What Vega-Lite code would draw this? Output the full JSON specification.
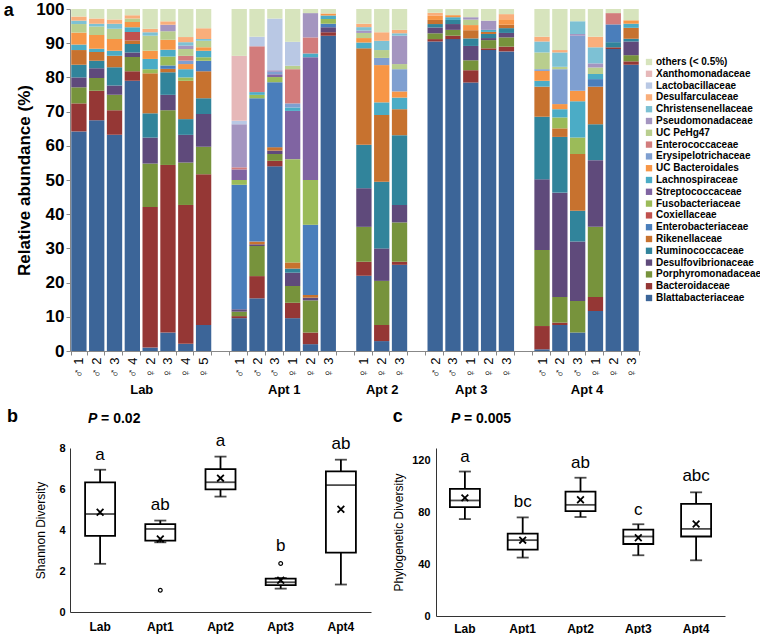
{
"$schema":"https://vega.github.io/schema/vega-lite/v6.json",
"padding":{"left":3,"top":0,"right":0,"bottom":0},
"spacing":12,
"config":{"font":"Liberation Sans","view":{"stroke":null},"axis":{"labelColor":"#000","titleColor":"#000"}},
"datasets":{
"fams":[{"fam":"Blattabacteriaceae","rank":1},{"fam":"Bacteroidaceae","rank":2},{"fam":"Porphyromonadaceae","rank":3},{"fam":"Desulfovibrionaceae","rank":4},{"fam":"Ruminococcaceae","rank":5},{"fam":"Rikenellaceae","rank":6},{"fam":"Enterobacteriaceae","rank":7},{"fam":"Coxiellaceae","rank":8},{"fam":"Fusobacteriaceae","rank":9},{"fam":"Streptococcaceae","rank":10},{"fam":"Lachnospiraceae","rank":11},{"fam":"UC Bacteroidales","rank":12},{"fam":"Erysipelotrichaceae","rank":13},{"fam":"Enterococcaceae","rank":14},{"fam":"UC PeHg47","rank":15},{"fam":"Pseudomonadaceae","rank":16},{"fam":"Christensenellaceae","rank":17},{"fam":"Desulfarculaceae","rank":18},{"fam":"Lactobacillaceae","rank":19},{"fam":"Xanthomonadaceae","rank":20},{"fam":"others","rank":21}],
"bars":[
{"s":"Lab|♂ 1","Blattabacteriaceae":64.2,"Bacteroidaceae":8.2,"Porphyromonadaceae":4.7,"Desulfovibrionaceae":2.9,"Ruminococcaceae":3.7,"Rikenellaceae":4.3,"Lachnospiraceae":1.6,"UC Bacteroidales":3.5,"UC PeHg47":2.5,"Christensenellaceae":1.0,"Desulfarculaceae":1.2,"others":2.2},
{"s":"Lab|♂ 2","Blattabacteriaceae":67.5,"Bacteroidaceae":8.6,"Porphyromonadaceae":3.7,"Desulfovibrionaceae":2.9,"Ruminococcaceae":2.2,"Rikenellaceae":2.5,"Lachnospiraceae":1.0,"UC Bacteroidales":4.0,"UC PeHg47":2.5,"Christensenellaceae":0.8,"Desulfarculaceae":1.5,"others":2.8},
{"s":"Lab|♂ 3","Blattabacteriaceae":63.2,"Bacteroidaceae":7.2,"Porphyromonadaceae":4.5,"Desulfovibrionaceae":2.7,"Ruminococcaceae":5.4,"Rikenellaceae":3.3,"Lachnospiraceae":1.5,"UC Bacteroidales":3.4,"UC PeHg47":3.0,"Christensenellaceae":1.5,"Desulfarculaceae":1.2,"others":3.1},
{"s":"Lab|♂ 4","Blattabacteriaceae":79.0,"Bacteroidaceae":2.8,"Porphyromonadaceae":4.2,"Desulfovibrionaceae":1.3,"Ruminococcaceae":2.5,"Rikenellaceae":1.0,"Coxiellaceae":2.5,"Lachnospiraceae":1.4,"UC Bacteroidales":1.5,"UC PeHg47":1.0,"Desulfarculaceae":1.0,"others":1.8},
{"s":"Lab|♀ 2","Blattabacteriaceae":1.0,"Bacteroidaceae":41.1,"Porphyromonadaceae":12.7,"Desulfovibrionaceae":7.6,"Ruminococcaceae":7.1,"Rikenellaceae":11.7,"Fusobacteriaceae":1.2,"Lachnospiraceae":3.0,"UC Bacteroidales":2.4,"UC PeHg47":4.4,"Christensenellaceae":1.0,"Desulfarculaceae":1.0,"others":5.8},
{"s":"Lab|♀ 3","Blattabacteriaceae":5.4,"Bacteroidaceae":49.0,"Porphyromonadaceae":16.0,"Desulfovibrionaceae":4.5,"Ruminococcaceae":6.6,"Rikenellaceae":1.0,"Enterobacteriaceae":1.0,"Fusobacteriaceae":2.6,"Lachnospiraceae":2.0,"UC Bacteroidales":2.9,"UC PeHg47":2.5,"Pseudomonadaceae":1.9,"Desulfarculaceae":1.0,"others":3.6},
{"s":"Lab|♀ 4","Blattabacteriaceae":2.1,"Bacteroidaceae":40.6,"Porphyromonadaceae":12.4,"Desulfovibrionaceae":8.1,"Ruminococcaceae":4.6,"Rikenellaceae":11.2,"Fusobacteriaceae":1.0,"Lachnospiraceae":2.4,"UC Bacteroidales":1.5,"Erysipelotrichaceae":1.0,"Enterococcaceae":1.4,"UC PeHg47":2.0,"Pseudomonadaceae":1.0,"Christensenellaceae":1.0,"Desulfarculaceae":1.5,"others":8.2},
{"s":"Lab|♀ 5","Blattabacteriaceae":7.6,"Bacteroidaceae":44.1,"Porphyromonadaceae":8.0,"Desulfovibrionaceae":9.6,"Ruminococcaceae":4.6,"Rikenellaceae":7.9,"Enterobacteriaceae":3.1,"Fusobacteriaceae":1.0,"Lachnospiraceae":1.9,"UC Bacteroidales":1.0,"UC PeHg47":1.9,"Christensenellaceae":0.5,"Desulfarculaceae":3.2,"others":5.6},
{"s":"A1|♂ 1","Blattabacteriaceae":9.6,"Bacteroidaceae":0.6,"Porphyromonadaceae":1.3,"Desulfovibrionaceae":0.7,"Enterobacteriaceae":36.4,"Fusobacteriaceae":1.4,"Streptococcaceae":3.1,"Enterococcaceae":0.6,"Pseudomonadaceae":12.6,"Lactobacillaceae":1.0,"Xanthomonadaceae":19.0,"others":13.7},
{"s":"A1|♂ 2","Blattabacteriaceae":15.4,"Bacteroidaceae":6.5,"Porphyromonadaceae":8.8,"Desulfovibrionaceae":0.5,"Rikenellaceae":0.8,"Enterobacteriaceae":41.9,"Fusobacteriaceae":1.0,"Lachnospiraceae":0.8,"Enterococcaceae":13.4,"Lactobacillaceae":2.8,"others":8.1},
{"s":"A1|♂ 3","Blattabacteriaceae":54.0,"Bacteroidaceae":1.6,"Porphyromonadaceae":2.0,"Desulfovibrionaceae":1.0,"Rikenellaceae":1.0,"Enterobacteriaceae":19.0,"Fusobacteriaceae":1.5,"Streptococcaceae":0.8,"Erysipelotrichaceae":0.7,"Pseudomonadaceae":0.5,"Lactobacillaceae":15.1,"others":2.8},
{"s":"A1|♀ 1","Blattabacteriaceae":9.6,"Bacteroidaceae":4.5,"Porphyromonadaceae":4.9,"Desulfovibrionaceae":3.9,"Ruminococcaceae":1.2,"Rikenellaceae":1.8,"Fusobacteriaceae":30.2,"Streptococcaceae":14.1,"Lachnospiraceae":1.0,"Erysipelotrichaceae":1.2,"Enterococcaceae":10.0,"UC PeHg47":1.0,"Lactobacillaceae":7.0,"others":9.6},
{"s":"A1|♀ 2","Blattabacteriaceae":2.0,"Bacteroidaceae":3.4,"Porphyromonadaceae":9.4,"Desulfovibrionaceae":0.8,"Rikenellaceae":0.8,"Enterobacteriaceae":20.5,"Fusobacteriaceae":13.1,"Streptococcaceae":35.9,"Lachnospiraceae":1.1,"Enterococcaceae":4.7,"Pseudomonadaceae":7.1,"others":1.2},
{"s":"A1|♀ 3","Blattabacteriaceae":92.2,"Bacteroidaceae":1.0,"Desulfovibrionaceae":1.5,"Enterobacteriaceae":1.0,"Fusobacteriaceae":1.4,"Lachnospiraceae":1.0,"UC Bacteroidales":0.6,"others":1.3},
{"s":"A2|♀ 1","Blattabacteriaceae":22.0,"Bacteroidaceae":4.1,"Porphyromonadaceae":10.2,"Desulfovibrionaceae":11.3,"Ruminococcaceae":12.7,"Rikenellaceae":28.2,"Lachnospiraceae":1.7,"UC Bacteroidales":1.3,"UC PeHg47":1.5,"Pseudomonadaceae":0.7,"Christensenellaceae":1.0,"Desulfarculaceae":1.0,"others":4.3},
{"s":"A2|♀ 2","Blattabacteriaceae":2.9,"Bacteroidaceae":4.7,"Porphyromonadaceae":12.9,"Desulfovibrionaceae":9.5,"Ruminococcaceae":19.5,"Rikenellaceae":19.5,"Lachnospiraceae":3.7,"UC Bacteroidales":10.9,"Erysipelotrichaceae":2.1,"UC PeHg47":2.3,"Christensenellaceae":2.7,"Desulfarculaceae":2.5,"others":6.8},
{"s":"A2|♀ 3","Blattabacteriaceae":25.2,"Bacteroidaceae":0.9,"Porphyromonadaceae":11.5,"Desulfovibrionaceae":5.1,"Ruminococcaceae":20.4,"Rikenellaceae":7.6,"Lachnospiraceae":3.4,"UC Bacteroidales":1.8,"Erysipelotrichaceae":6.5,"UC PeHg47":1.5,"Pseudomonadaceae":8.3,"Christensenellaceae":0.7,"Desulfarculaceae":1.0,"others":6.1},
{"s":"A3|♂ 2","Blattabacteriaceae":90.5,"Bacteroidaceae":0.7,"Porphyromonadaceae":1.7,"Desulfovibrionaceae":1.7,"Ruminococcaceae":1.0,"Rikenellaceae":1.2,"UC Bacteroidales":1.2,"Desulfarculaceae":0.9,"others":1.1},
{"s":"A3|♂ 3","Blattabacteriaceae":91.2,"Bacteroidaceae":1.0,"Porphyromonadaceae":1.7,"Desulfovibrionaceae":1.7,"Ruminococcaceae":1.2,"Lachnospiraceae":0.8,"UC Bacteroidales":0.6,"others":1.8},
{"s":"A3|♀ 1","Blattabacteriaceae":78.5,"Bacteroidaceae":3.6,"Porphyromonadaceae":2.9,"Desulfovibrionaceae":4.2,"Ruminococcaceae":2.2,"Rikenellaceae":2.4,"UC Bacteroidales":1.5,"UC PeHg47":1.6,"Pseudomonadaceae":0.7,"others":2.4},
{"s":"A3|♀ 2","Blattabacteriaceae":88.0,"Bacteroidaceae":0.5,"Porphyromonadaceae":2.4,"Desulfovibrionaceae":0.6,"Ruminococcaceae":1.2,"Rikenellaceae":0.6,"Lachnospiraceae":0.6,"Pseudomonadaceae":2.7,"others":3.4},
{"s":"A3|♀ 3","Blattabacteriaceae":87.6,"Bacteroidaceae":1.4,"Porphyromonadaceae":2.7,"Desulfovibrionaceae":1.3,"Ruminococcaceae":1.4,"Rikenellaceae":1.0,"UC Bacteroidales":1.6,"Desulfarculaceae":1.5,"others":1.5},
{"s":"A4|♂ 1","Blattabacteriaceae":0.5,"Bacteroidaceae":6.8,"Porphyromonadaceae":22.2,"Desulfovibrionaceae":20.7,"Ruminococcaceae":18.3,"Rikenellaceae":8.8,"Lachnospiraceae":1.7,"UC Bacteroidales":2.9,"Erysipelotrichaceae":0.5,"UC PeHg47":4.9,"Christensenellaceae":3.2,"Desulfarculaceae":1.4,"others":8.1},
{"s":"A4|♂ 2","Blattabacteriaceae":7.6,"Bacteroidaceae":0.7,"Porphyromonadaceae":7.5,"Desulfovibrionaceae":30.5,"Ruminococcaceae":16.3,"Rikenellaceae":2.5,"Fusobacteriaceae":3.2,"Lachnospiraceae":2.4,"UC Bacteroidales":1.5,"Erysipelotrichaceae":10.2,"UC PeHg47":0.7,"Christensenellaceae":4.2,"Desulfarculaceae":0.7,"others":12.0},
{"s":"A4|♂ 3","Blattabacteriaceae":5.4,"Porphyromonadaceae":9.2,"Desulfovibrionaceae":17.4,"Ruminococcaceae":9.0,"Rikenellaceae":16.6,"Fusobacteriaceae":4.8,"Lachnospiraceae":10.6,"UC Bacteroidales":3.1,"Erysipelotrichaceae":16.1,"Pseudomonadaceae":0.5,"Christensenellaceae":3.7,"others":3.6},
{"s":"A4|♀ 1","Blattabacteriaceae":11.7,"Bacteroidaceae":4.1,"Porphyromonadaceae":20.5,"Desulfovibrionaceae":19.5,"Ruminococcaceae":10.5,"Rikenellaceae":11.0,"Enterobacteriaceae":2.2,"Lachnospiraceae":1.5,"UC PeHg47":1.9,"Pseudomonadaceae":1.2,"Christensenellaceae":4.7,"Desulfarculaceae":3.1,"others":8.1},
{"s":"A4|♀ 2","Blattabacteriaceae":88.3,"Bacteroidaceae":0.5,"Ruminococcaceae":1.5,"Enterobacteriaceae":5.2,"Enterococcaceae":3.3,"others":1.2},
{"s":"A4|♀ 3","Blattabacteriaceae":83.7,"Bacteroidaceae":1.0,"Porphyromonadaceae":1.8,"Desulfovibrionaceae":4.0,"Ruminococcaceae":0.8,"Rikenellaceae":3.2,"Lachnospiraceae":1.2,"UC Bacteroidales":1.0,"others":3.3}
],
"grp":[{"g":"Lab","m":4},{"g":"Apt 1","m":12},{"g":"Apt 2","m":17.5},{"g":"Apt 3","m":22.5},{"g":"Apt 4","m":29}],
"sh":[
{"g":"Lab","lo":2.35,"q1":3.71,"med":4.78,"q3":6.32,"hi":6.94,"mean":4.87,"lab":"a","ly":7.67},
{"g":"Apt1","lo":3.4,"q1":3.48,"med":4.05,"q3":4.29,"hi":4.46,"mean":3.56,"lab":"ab","ly":5.22},
{"g":"Apt2","lo":5.63,"q1":5.98,"med":6.33,"q3":6.97,"hi":7.58,"mean":6.53,"lab":"a","ly":8.33},
{"g":"Apt3","lo":1.14,"q1":1.31,"med":1.45,"q3":1.63,"hi":1.66,"mean":1.55,"lab":"b","ly":3.2},
{"g":"Apt4","lo":1.34,"q1":2.9,"med":6.19,"q3":6.86,"hi":7.43,"mean":5.01,"lab":"ab","ly":8.2}
],
"shOut":[{"g":"Apt1","y":1.06},{"g":"Apt3","y":2.37}],
"shP":[{"g":"Lab","y":9.41,"p":"P","v":"= 0.02"}],
"pd":[
{"g":"Lab","lo":75,"q1":84.2,"med":89.4,"q3":98.3,"hi":111.8,"mean":91.4,"lab":"a","ly":123},
{"g":"Apt1","lo":45.2,"q1":51.3,"med":58.7,"q3":63.8,"hi":76.3,"mean":58.7,"lab":"bc","ly":88},
{"g":"Apt2","lo":76.6,"q1":81.2,"med":86,"q3":96.2,"hi":107,"mean":89.9,"lab":"ab","ly":118.7},
{"g":"Apt3","lo":47,"q1":55.7,"med":61.5,"q3":66.9,"hi":71,"mean":60.5,"lab":"c","ly":82.2},
{"g":"Apt4","lo":43.1,"q1":61.5,"med":67.4,"q3":86.8,"hi":95.7,"mean":71.2,"lab":"abc","ly":108}
],
"pdP":[{"g":"Lab","y":152.4,"p":"P","v":"= 0.005"}]
},
"resolve":{"scale":{"color":"independent"},"legend":{"color":"independent"}},
"vconcat":[
{
"width":570,"height":342,
"title":{"text":"a","anchor":"start","frame":"bounds","fontSize":18,"fontWeight":"bold","offset":-20,"dx":-12},
"layer":[
{
"data":{"name":"bars"},
"transform":[
{"fold":["Blattabacteriaceae","Bacteroidaceae","Porphyromonadaceae","Desulfovibrionaceae","Ruminococcaceae","Rikenellaceae","Enterobacteriaceae","Coxiellaceae","Fusobacteriaceae","Streptococcaceae","Lachnospiraceae","UC Bacteroidales","Erysipelotrichaceae","Enterococcaceae","UC PeHg47","Pseudomonadaceae","Christensenellaceae","Desulfarculaceae","Lactobacillaceae","Xanthomonadaceae","others"],"as":["fam","v"]},
{"filter":"isValid(datum.v)"},
{"lookup":"fam","from":{"data":{"name":"fams"},"key":"fam","fields":["rank"]}}
],
"mark":{"type":"bar"},
"encoding":{
"x":{"field":"s","type":"nominal","sort":null,"scale":{"domain":["Lab|♂ 1","Lab|♂ 2","Lab|♂ 3","Lab|♂ 4","Lab|♀ 2","Lab|♀ 3","Lab|♀ 4","Lab|♀ 5","g1|","A1|♂ 1","A1|♂ 2","A1|♂ 3","A1|♀ 1","A1|♀ 2","A1|♀ 3","g2|","A2|♀ 1","A2|♀ 2","A2|♀ 3","g3|","A3|♂ 2","A3|♂ 3","A3|♀ 1","A3|♀ 2","A3|♀ 3","g4|","A4|♂ 1","A4|♂ 2","A4|♂ 3","A4|♀ 1","A4|♀ 2","A4|♀ 3"],"paddingInner":0.14,"paddingOuter":0.07},
"axis":{"title":null,"labelAngle":270,"labelFontSize":13,"labelPadding":2,"tickBand":"extent","tickSize":4,"domainColor":"#888","tickColor":"#888","labelExpr":"split(datum.label, '|')[1]"}},
"y":{"field":"v","type":"quantitative","stack":"zero","scale":{"domain":[0,100],"nice":false},
"axis":{"title":"Relative abundance (%)","titleFontSize":17,"titleFontWeight":"bold","labelFontSize":17,"labelFontWeight":"bold","values":[0,10,20,30,40,50,60,70,80,90,100],"grid":false,"tickSize":4,"domainColor":"#888","tickColor":"#888","labelPadding":2,"titlePadding":2}},
"color":{"field":"fam","type":"nominal","scale":{"domain":["others","Xanthomonadaceae","Lactobacillaceae","Desulfarculaceae","Christensenellaceae","Pseudomonadaceae","UC PeHg47","Enterococcaceae","Erysipelotrichaceae","UC Bacteroidales","Lachnospiraceae","Streptococcaceae","Fusobacteriaceae","Coxiellaceae","Enterobacteriaceae","Rikenellaceae","Ruminococcaceae","Desulfovibrionaceae","Porphyromonadaceae","Bacteroidaceae","Blattabacteriaceae"],"range":["#D7E4BD","#E6B8B9","#B9C8E4","#F9AE7B","#7DC1D4","#A495C0","#B9CE8E","#D27C7C","#7F9FD0","#F79646","#4BACC6","#8064A2","#9BBB59","#C0504D","#4A7EBB","#C7722F","#31849B","#5F4A7B","#77933C","#953735","#3C6598"]},
"legend":{"orient":"none","legendX":574,"legendY":48,"title":null,"symbolType":"square","symbolSize":40,"symbolStrokeWidth":0,"labelFontSize":10,"labelFontWeight":"bold","labelColor":"#000","rowPadding":1.8,"labelOffset":2,"padding":0,"labelLimit":200,"labelExpr":"datum.label == 'others' ? 'others (< 0.5%)' : datum.label"}},
"order":{"field":"rank","type":"quantitative"}
}
},
{
"data":{"name":"grp"},
"mark":{"type":"point","opacity":0},
"encoding":{"x":{"field":"m","type":"quantitative","scale":{"domain":[0,32],"nice":false,"zero":false},
"axis":{"orient":"bottom","values":[4,12,17.5,22.5,29],"labelExpr":"datum.value == 4 ? 'Lab' : datum.value == 12 ? 'Apt 1' : datum.value == 17.5 ? 'Apt 2' : datum.value == 22.5 ? 'Apt 3' : 'Apt 4'","title":null,"domain":false,"ticks":false,"grid":false,"offset":30,"labelPadding":2,"labelFontSize":13,"labelFontWeight":"bold","labelColor":"#000","labelFlush":false,"labelOverlap":false}}}
}
],
"resolve":{"scale":{"x":"independent"}}
},
{
"hconcat":[
{
"width":301,"height":164,
"title":{"text":"b","anchor":"start","frame":"bounds","fontSize":18,"fontWeight":"bold","dx":-28,"offset":-14},
"data":{"name":"sh"},
"encoding":{"x":{"field":"g","type":"nominal","sort":null,"scale":{"domain":["Lab","Apt1","Apt2","Apt3","Apt4"],"paddingInner":0,"paddingOuter":0},"axis":{"title":null,"labelAngle":0,"labelFontSize":12,"labelFontWeight":"bold","ticks":false,"domainColor":"#333","labelPadding":9}}},
"layer":[
{"mark":{"type":"rule","color":"#000","strokeWidth":1.8},"encoding":{"y":{"field":"lo","type":"quantitative","scale":{"domain":[0,8],"nice":false},"axis":{"title":"Shannon Diversity","values":[0,1,2,3,4,5,6,7,8],"labelFontSize":11,"labelFontWeight":"bold","titleFontSize":12,"titleFontWeight":"normal","ticks":false,"grid":false,"domainColor":"#333","labelPadding":5,"titlePadding":11}},"y2":{"field":"hi"}}},
{"mark":{"type":"tick","color":"#000","thickness":1.8,"size":12},"encoding":{"y":{"field":"lo","type":"quantitative"}}},
{"mark":{"type":"tick","color":"#000","thickness":1.8,"size":12},"encoding":{"y":{"field":"hi","type":"quantitative"}}},
{"mark":{"type":"bar","fill":"#fff","stroke":"#000","strokeWidth":1.8,"size":30},"encoding":{"y":{"field":"q1","type":"quantitative"},"y2":{"field":"q3"}}},
{"mark":{"type":"tick","color":"#000","thickness":1.8,"size":30},"encoding":{"y":{"field":"med","type":"quantitative"}}},
{"mark":{"type":"point","shape":"M-1,-1L1,1M1,-1L-1,1","filled":false,"color":"#000","strokeWidth":1.8,"size":45,"opacity":1},"encoding":{"y":{"field":"mean","type":"quantitative"}}},
{"data":{"name":"shOut"},"mark":{"type":"point","shape":"circle","filled":false,"color":"#000","strokeWidth":1.2,"size":14,"opacity":1},"encoding":{"y":{"field":"y","type":"quantitative"}}},
{"mark":{"type":"text","fontSize":17,"baseline":"middle","color":"#000"},"encoding":{"y":{"field":"ly","type":"quantitative"},"text":{"field":"lab"}}},
{"data":{"name":"shP"},"mark":{"type":"text","fontSize":14,"fontWeight":"bold","fontStyle":"italic","align":"left","baseline":"middle","dx":-12,"color":"#000"},"encoding":{"y":{"field":"y","type":"quantitative"},"text":{"field":"p"}}},
{"data":{"name":"shP"},"mark":{"type":"text","fontSize":14,"fontWeight":"bold","align":"left","baseline":"middle","dx":1,"color":"#000"},"encoding":{"y":{"field":"y","type":"quantitative"},"text":{"field":"v"}}}
]
},
{
"width":289,"height":168,
"title":{"text":"c","anchor":"start","frame":"bounds","fontSize":18,"fontWeight":"bold","dx":0,"offset":-14},
"data":{"name":"pd"},
"encoding":{"x":{"field":"g","type":"nominal","sort":null,"scale":{"domain":["Lab","Apt1","Apt2","Apt3","Apt4"],"paddingInner":0,"paddingOuter":0},"axis":{"title":null,"labelAngle":0,"labelFontSize":12,"labelFontWeight":"bold","ticks":false,"domainColor":"#333","labelPadding":7}}},
"layer":[
{"mark":{"type":"rule","color":"#000","strokeWidth":1.8},"encoding":{"y":{"field":"lo","type":"quantitative","scale":{"domain":[0,130],"nice":false},"axis":{"title":"Phylogenetic Diversity","values":[0,20,40,60,80,100,120],"labelFontSize":11,"labelFontWeight":"bold","titleFontSize":12,"titleFontWeight":"normal","ticks":false,"grid":false,"domainColor":"#333","labelPadding":6,"titlePadding":6}},"y2":{"field":"hi"}}},
{"mark":{"type":"tick","color":"#000","thickness":1.8,"size":12},"encoding":{"y":{"field":"lo","type":"quantitative"}}},
{"mark":{"type":"tick","color":"#000","thickness":1.8,"size":12},"encoding":{"y":{"field":"hi","type":"quantitative"}}},
{"mark":{"type":"bar","fill":"#fff","stroke":"#000","strokeWidth":1.8,"size":30},"encoding":{"y":{"field":"q1","type":"quantitative"},"y2":{"field":"q3"}}},
{"mark":{"type":"tick","color":"#000","thickness":1.8,"size":30},"encoding":{"y":{"field":"med","type":"quantitative"}}},
{"mark":{"type":"point","shape":"M-1,-1L1,1M1,-1L-1,1","filled":false,"color":"#000","strokeWidth":1.8,"size":45,"opacity":1},"encoding":{"y":{"field":"mean","type":"quantitative"}}},
{"mark":{"type":"text","fontSize":17,"baseline":"middle","color":"#000"},"encoding":{"y":{"field":"ly","type":"quantitative"},"text":{"field":"lab"}}},
{"data":{"name":"pdP"},"mark":{"type":"text","fontSize":14,"fontWeight":"bold","fontStyle":"italic","align":"left","baseline":"middle","dx":-14,"color":"#000"},"encoding":{"y":{"field":"y","type":"quantitative"},"text":{"field":"p"}}},
{"data":{"name":"pdP"},"mark":{"type":"text","fontSize":14,"fontWeight":"bold","align":"left","baseline":"middle","dx":-1,"color":"#000"},"encoding":{"y":{"field":"y","type":"quantitative"},"text":{"field":"v"}}}
]
}
],
"spacing":21
}
]
}
